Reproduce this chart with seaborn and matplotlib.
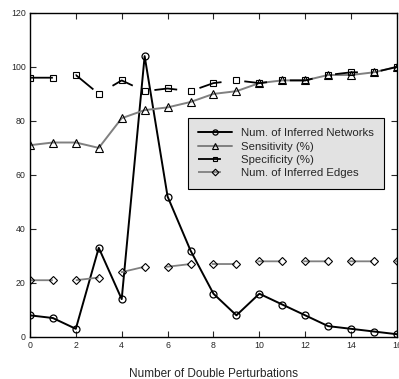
import numpy as np
import pandas as pd
import matplotlib
matplotlib.use("Agg")
import matplotlib.pyplot as plt
import seaborn as sns

perturbations = list(range(17))
networks = [8, 7, 3, 33, 14, 104, 52, 32, 16, 8, 16, 12, 8, 4, 3, 2, 1]
sensitivity = [71, 72, 72, 70, 81, 84, 85, 87, 90, 91, 94, 95, 95, 97, 97, 98, 100]
specificity = [96, 96, 97, 90, 95, 91, 92, 91, 94, 95, 94, 95, 95, 97, 98, 98, 100]
edges = [21, 21, 21, 22, 24, 26, 26, 27, 27, 27, 28, 28, 28, 28, 28, 28, 28]

sns.set_style("ticks")
plt.rcParams['font.family'] = ['Liberation Sans', 'DejaVu Sans']

fig = plt.figure(figsize=(3.99, 3.79), dpi=100)
ax = fig.add_axes([0.075, 0.111, 0.92, 0.855])

gray = '#808080'
dash = (0, (12.7, 12.7))
sns.lineplot(x=perturbations, y=networks, ax=ax, color='black', lw=1.4,
             marker='o', markersize=5, markerfacecolor='none', markeredgecolor='black',
             markeredgewidth=0.9, label='Num. of Inferred Networks')
sns.lineplot(x=perturbations, y=sensitivity, ax=ax, color=gray, lw=1.4,
             marker='^', markersize=5.5, markerfacecolor='none', markeredgecolor='black',
             markeredgewidth=0.8, label='Sensitivity (%)')
sns.lineplot(x=perturbations, y=specificity, ax=ax, color='black', lw=1.3, linestyle=dash,
             marker='s', markersize=4.5, markerfacecolor='none', markeredgecolor='black',
             markeredgewidth=0.8, label='Specificity (%)')
sns.lineplot(x=perturbations, y=edges, ax=ax, color=gray, lw=1.3, linestyle=dash,
             marker='D', markersize=4.5, markerfacecolor='none', markeredgecolor='black',
             markeredgewidth=0.8, label='Num. of Inferred Edges')

ax.set_xlim(0, 16)
ax.set_ylim(0, 120)
ax.set_xticks(range(0, 17, 2))
ax.set_yticks(range(0, 121, 20))
ax.tick_params(direction='in', top=True, right=True, labelsize=6.3, length=4, width=0.8, pad=3)
for s in ax.spines.values():
    s.set_linewidth(1.0)
    s.set_color('black')
ax.set_xlabel('Number of Double Perturbations', fontsize=8.5, labelpad=13)
ax.set_ylabel('')

leg = ax.legend(loc='upper left', bbox_to_anchor=(0.43, 0.676), fontsize=8.2, handlelength=3,
                frameon=True, fancybox=False, framealpha=1, edgecolor='black',
                facecolor='#e2e2e2', borderpad=0.9, labelspacing=0.3, handletextpad=0.8,
                borderaxespad=0, markerscale=0.75)
leg.get_frame().set_linewidth(0.8)

fig.savefig('out.png', dpi=100)
